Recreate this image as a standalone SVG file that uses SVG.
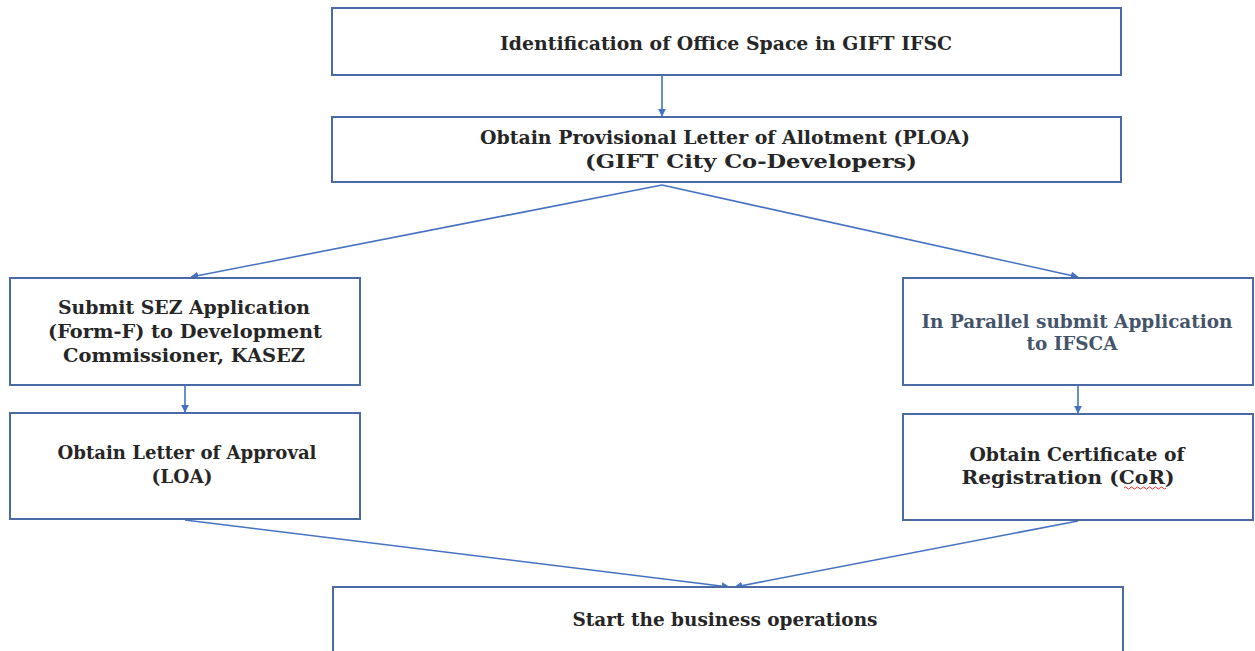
<svg xmlns="http://www.w3.org/2000/svg" width="1255" height="651" viewBox="0 0 1255 651">
<style>
.box{fill:#fff;stroke:#4a6aa6;stroke-width:2}
.t{font-family:"DejaVu Serif","Liberation Serif",serif;font-weight:bold;font-size:18.5px;fill:#262626;text-anchor:middle}
.blue{fill:#44546a}
.c{stroke:#4472c4;stroke-width:1.6;fill:none;marker-end:url(#ah)}
</style>
<defs>
<marker id="ah" viewBox="0 0 10 10" refX="9" refY="5" markerWidth="8" markerHeight="8" markerUnits="userSpaceOnUse" orient="auto">
<path d="M0,0 L10,5 L0,10 z" fill="#4472c4"/>
</marker>
</defs>
<rect width="1255" height="651" fill="#fff"/>
<g id="connectors">
<line class="c" x1="662" y1="76" x2="662" y2="116"/>
<line class="c" x1="662" y1="185" x2="191" y2="277"/>
<line class="c" x1="662" y1="185" x2="1078" y2="277"/>
<line class="c" x1="185" y1="386" x2="185" y2="412"/>
<line class="c" x1="1078" y1="386" x2="1078" y2="413"/>
<line class="c" x1="185" y1="520" x2="729" y2="587"/>
<line class="c" x1="1078" y1="521" x2="735" y2="587"/>
</g>
<g id="n1">
<rect class="box" x="332" y="8" width="789" height="67"/>
<text class="t" x="726" y="50" textLength="452" lengthAdjust="spacingAndGlyphs">Identification of Office Space in GIFT IFSC</text>
</g>
<g id="n2">
<rect class="box" x="332" y="117" width="789" height="65"/>
<text class="t" x="725" y="144" textLength="490" lengthAdjust="spacingAndGlyphs">Obtain Provisional Letter of Allotment (PLOA)</text>
<text class="t" x="751" y="168" textLength="332" lengthAdjust="spacingAndGlyphs">(GIFT City Co-Developers)</text>
</g>
<g id="n3">
<rect class="box" x="10" y="278" width="350" height="107"/>
<text class="t" x="184" y="314" textLength="252" lengthAdjust="spacingAndGlyphs">Submit SEZ Application</text>
<text class="t" x="185" y="338" textLength="274" lengthAdjust="spacingAndGlyphs">(Form-F) to Development</text>
<text class="t" x="184" y="362" textLength="242" lengthAdjust="spacingAndGlyphs">Commissioner, KASEZ</text>
</g>
<g id="n4">
<rect class="box" x="903" y="278" width="350" height="107"/>
<text class="t blue" x="1077" y="328" textLength="311" lengthAdjust="spacingAndGlyphs">In Parallel submit Application</text>
<text class="t blue" x="1072" y="350" textLength="91" lengthAdjust="spacingAndGlyphs">to IFSCA</text>
</g>
<g id="n5">
<rect class="box" x="10" y="413" width="350" height="106"/>
<text class="t" x="187" y="459" textLength="259" lengthAdjust="spacingAndGlyphs">Obtain Letter of Approval</text>
<text class="t" x="182" y="483" textLength="61" lengthAdjust="spacingAndGlyphs">(LOA)</text>
</g>
<g id="n6">
<rect class="box" x="903" y="414" width="350" height="106"/>
<text class="t" x="1077" y="461" textLength="215" lengthAdjust="spacingAndGlyphs">Obtain Certificate of</text>
<text class="t" x="1068" y="484" textLength="213" lengthAdjust="spacingAndGlyphs">Registration (CoR)</text>
<path d="M1124,488 q1.5,-2 3,0 t3,0 t3,0 t3,0 t3,0 t3,0 t3,0 t3,0 t3,0 t3,0 t3,0 t3,0 t3,0 t3,0" fill="none" stroke="#e03030" stroke-width="1"/>
</g>
<g id="n7">
<rect class="box" x="333" y="587" width="790" height="90"/>
<text class="t" x="725" y="626" textLength="305" lengthAdjust="spacingAndGlyphs">Start the business operations</text>
</g>
</svg>
